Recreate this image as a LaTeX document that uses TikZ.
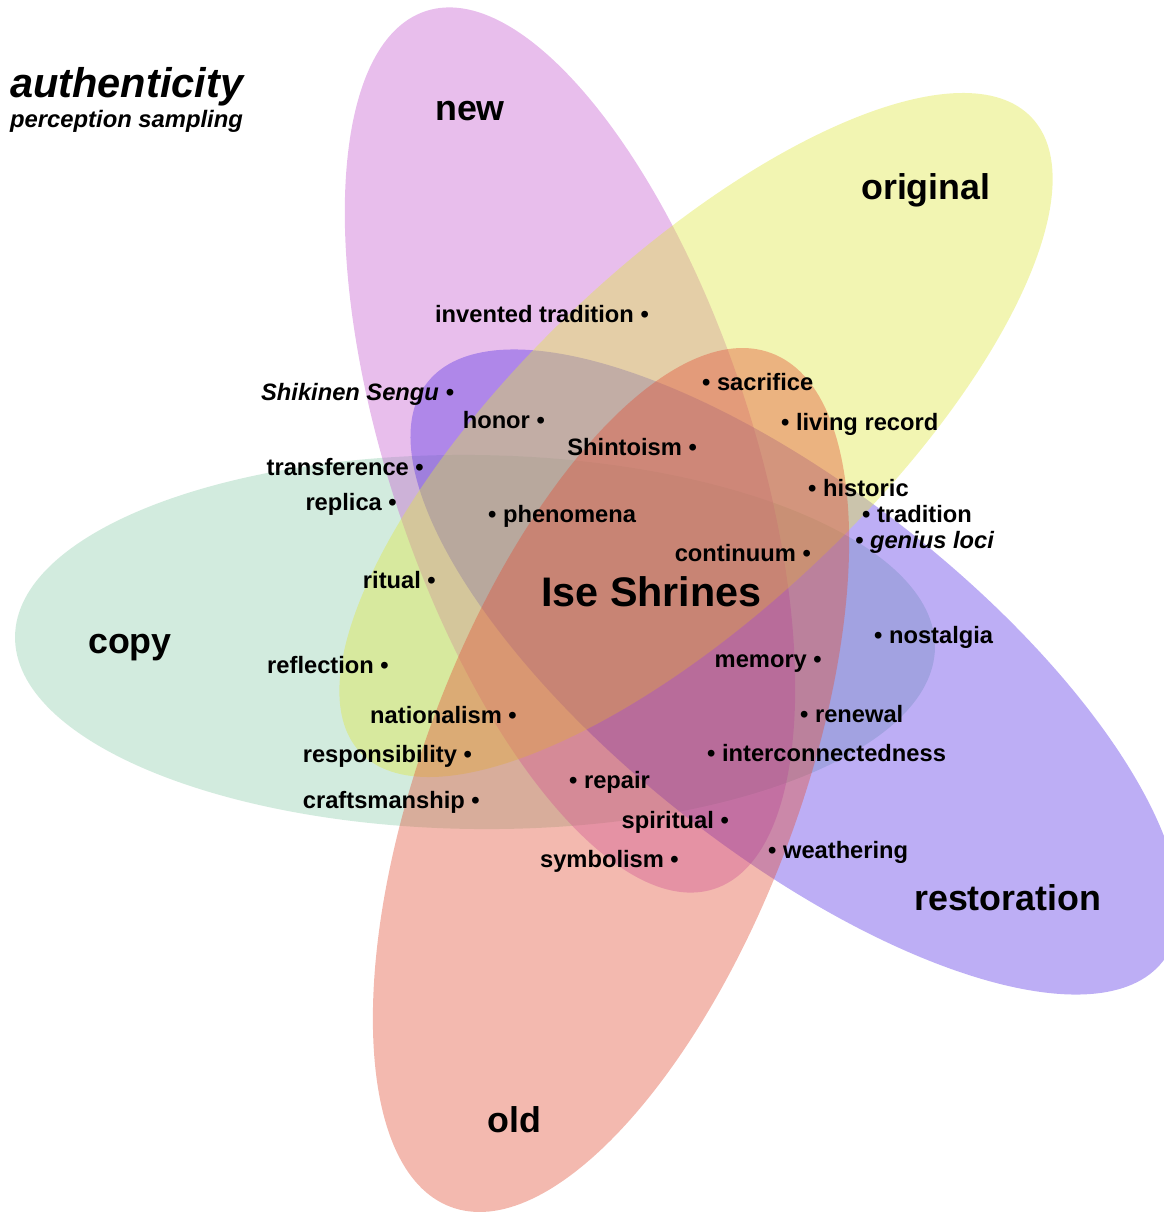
\documentclass[tikz,border=0pt]{standalone}
\usepackage{fontspec}
\setmainfont{Liberation Sans}
\usetikzlibrary{positioning}
\definecolor{copygreen}{RGB}{143,205,173}
\definecolor{newpink}{RGB}{198,93,208}
\definecolor{origyellow}{RGB}{223,230,63}
\definecolor{restpurple}{RGB}{90,53,230}
\definecolor{oldred}{RGB}{225,80,55}

\begin{document}
\begin{tikzpicture}[x=1pt, y=1pt,
  petal/.style={fill=#1, fill opacity=0.4},
  term/.style={font=\fontsize{23.7}{27}\selectfont\bfseries, inner sep=0pt},
  termit/.style={font=\fontsize{23.7}{27}\selectfont\bfseries\itshape, inner sep=0pt},
  setname/.style={font=\fontsize{35.8}{40}\selectfont\bfseries, inner sep=0pt, anchor=base west}
]
  \useasboundingbox (0,0) rectangle (1163,-1222);

  % Sets
  \fill[petal=copygreen] (475,-642) ellipse [x radius=460, y radius=187, rotate=-0.7];
  \fill[petal=newpink] (570,-450) ellipse [x radius=462, y radius=182, rotate=-71.8];
  \fill[petal=restpurple] (795,-672) ellipse [x radius=468, y radius=181, rotate=-38.2];
  \fill[petal=origyellow] (696,-435) ellipse [x radius=462, y radius=175, rotate=43.4];
  \fill[petal=oldred] (611,-780) ellipse [x radius=456, y radius=188, rotate=69.4];

  % Title
  \node[font=\fontsize{41.5}{46}\selectfont\bfseries\itshape, inner sep=0pt, anchor=base west] (title) at (10,-98) {authenticity};
  \node[font=\fontsize{23.8}{27}\selectfont\bfseries\itshape, inner sep=0pt, anchor=base west] (subtitle) at (10,-128) {perception sampling};

  % Set names
  \node[setname] (new) at (435,-121) {new};
  \node[setname] (original) at (861,-200) {original};
  \node[setname] (copy) at (88,-653) {copy};
  \node[setname] (old) at (487,-1132) {old};
  \node[setname] (restoration) at (914,-910) {restoration};
  \node[font=\fontsize{41.3}{46}\selectfont\bfseries, inner sep=0pt, anchor=base west] (ise) at (541,-606) {Ise Shrines};

  % Terms, bullet on the right
  \node[term, anchor=base east] (invented) at (649,-323) {invented tradition •};
  \node[termit, anchor=base east] (sengu) at (454,-400) {Shikinen Sengu •};
  \node[term, anchor=base east] (honor) at (545,-428) {honor •};
  \node[term, anchor=base east] (shintoism) at (697,-455) {Shintoism •};
  \node[term, anchor=base east] (transference) at (424,-475) {transference •};
  \node[term, anchor=base east] (replica) at (397,-510) {replica •};
  \node[term, anchor=base east] (ritual) at (436,-588) {ritual •};
  \node[term, anchor=base east] (reflection) at (389,-673) {reflection •};
  \node[term, anchor=base east] (continuum) at (811,-561) {continuum •};
  \node[term, anchor=base east] (memory) at (822,-667) {memory •};
  \node[term, anchor=base east] (nationalism) at (517,-723) {nationalism •};
  \node[term, anchor=base east] (responsibility) at (472,-762) {responsibility •};
  \node[term, anchor=base east] (craftsmanship) at (480,-808) {craftsmanship •};
  \node[term, anchor=base east] (spiritual) at (729,-828) {spiritual •};
  \node[term, anchor=base east] (symbolism) at (679,-867) {symbolism •};

  % Terms, bullet on the left
  \node[term, anchor=base west] (phenomena) at (488,-522) {• phenomena};
  \node[term, anchor=base west] (sacrifice) at (702,-390) {• sacrifice};
  \node[term, anchor=base west] (living) at (781,-430) {• living record};
  \node[term, anchor=base west] (historic) at (808,-496) {• historic};
  \node[term, anchor=base west] (tradition) at (862,-522) {• tradition};
  \node[termit, anchor=base west] (genius) at (855,-548) {• genius loci};
  \node[term, anchor=base west] (nostalgia) at (874,-643) {• nostalgia};
  \node[term, anchor=base west] (renewal) at (800,-722) {• renewal};
  \node[term, anchor=base west] (interconn) at (707,-761) {• interconnectedness};
  \node[term, anchor=base west] (repair) at (569,-788) {• repair};
  \node[term, anchor=base west] (weathering) at (768,-858) {• weathering};
\end{tikzpicture}
\end{document}
